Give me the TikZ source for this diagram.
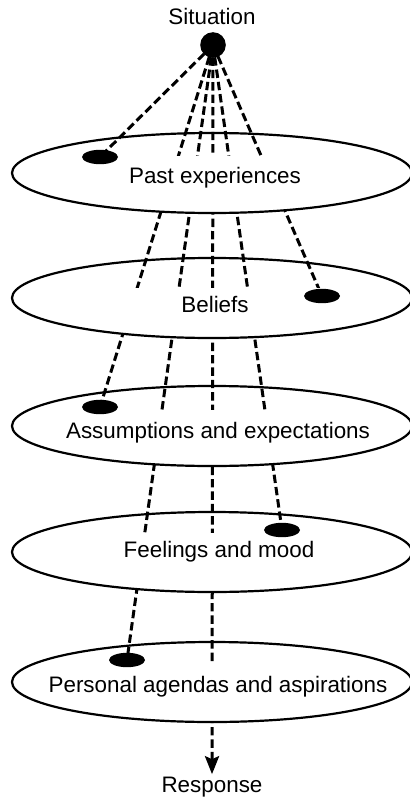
\documentclass[tikz,border=0pt]{standalone}
\usepackage{fontspec}
\setmainfont{Liberation Sans}
\usetikzlibrary{arrows.meta,shapes.geometric}
\pgfdeclarelayer{rays}
\pgfdeclarelayer{mask}
\pgfsetlayers{rays,mask,main}
\tikzset{
  disc/.style={draw,ellipse,line width=1.1pt,minimum width=200pt,minimum height=40pt,inner sep=0pt},
  blob/.style={fill,ellipse,minimum width=18pt,minimum height=7.2pt,inner sep=0pt},
  ray/.style={line width=1.5pt,dash pattern=on 4.2pt off 2pt},
  lbl/.style={font=\fontsize{11.2}{13}\selectfont,inner sep=1pt},
}

\begin{document}
\begin{tikzpicture}[x=0.5pt,y=-0.5pt]
  \useasboundingbox (0,0) rectangle (410,797);
  % filter layers
  \node[disc] (past) at (212,173) {};
  \node[disc] (beliefs) at (212,298) {};
  \node[disc] (assume) at (212,426) {};
  \node[disc] (feel) at (212,552) {};
  \node[disc] (agenda) at (212,682) {};
  \node[lbl,anchor=base] (past-t) at (215,183) {Past experiences};
  \node[lbl,anchor=base] (beliefs-t) at (215,312) {Beliefs};
  \node[lbl,anchor=base] (assume-t) at (218,438) {Assumptions and expectations};
  \node[lbl,anchor=base] (feel-t) at (219,557) {Feelings and mood};
  \node[lbl,anchor=base] (agenda-t) at (218,692) {Personal agendas and aspirations};
  % ends
  \node[lbl,anchor=base] (sit-t) at (212,25) {Situation};
  \node[fill,circle,minimum size=12.8pt,inner sep=0pt] (sit) at (213,45) {};
  \node[lbl,anchor=base] (resp) at (212,792) {Response};
  % where the rays get stopped
  \foreach \i/\x/\y in {1/100/157,2/322/296,3/100/407,4/282/530,5/127/660}
    \node[blob] (blob\i) at (\x,\y) {};
  \begin{pgfonlayer}{rays}
    \foreach \i in {1,...,5}{\draw[ray] (sit.center) -- (blob\i.center);}
    \draw[ray,-{Stealth[length=9pt,width=7pt,inset=1.5pt]}] (sit.center) -- (resp.north);
  \end{pgfonlayer}
  % lower half of each disc hides the rays
  \begin{pgfonlayer}{mask}
    \foreach \n/\lev in {past/156,beliefs/288,assume/410,feel/533,agenda/662}{
      \begin{scope}
        \clip (\n.center) ellipse [x radius=100pt,y radius=20pt];
        \fill[white] (0,\lev) rectangle (410,797);
      \end{scope}}
  \end{pgfonlayer}
\end{tikzpicture}
\end{document}
